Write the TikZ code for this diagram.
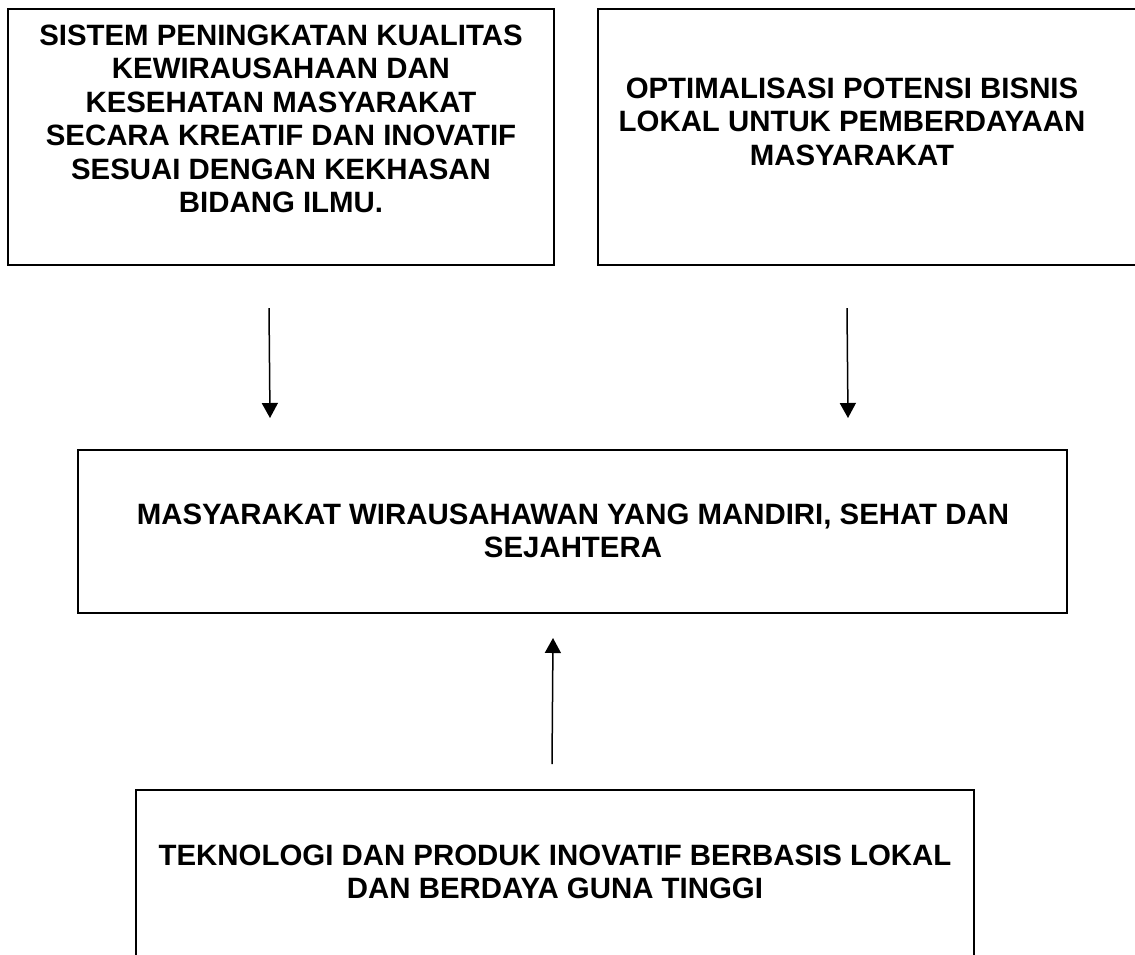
\documentclass[tikz,border=0pt]{standalone}
\usepackage{fontspec}
\setmainfont{Liberation Sans}
\usetikzlibrary{arrows.meta}

\tikzset{
  kotak/.style={draw, line width=2pt, inner sep=0pt},
  teks/.style={align=center, inner sep=0pt, anchor=north,
    font=\fontsize{29.4}{33.5}\selectfont\bfseries},
  panah/.style={line width=1.5pt, -{Triangle[width=16pt,length=15pt]}}
}

\begin{document}
\begin{tikzpicture}[x=1pt, y=-1pt]
  \useasboundingbox (0,0) rectangle (1135,954);
  \clip (0,0) rectangle (1135,954);

  % kotak atas
  \node[kotak, minimum width=546pt, minimum height=256pt] (sistem) at (281,137) {};
  \node[teks] (sistem-teks) at (281,24.5) {SISTEM PENINGKATAN KUALITAS\\
    KEWIRAUSAHAAN DAN\\ KESEHATAN MASYARAKAT\\ SECARA KREATIF DAN INOVATIF\\
    SESUAI DENGAN KEKHASAN\\ BIDANG ILMU.};
  \node[kotak, minimum width=552pt, minimum height=256pt] (bisnis) at (874,137) {};
  \node[teks] (bisnis-teks) at (852,77.5) {OPTIMALISASI POTENSI BISNIS\\
    LOKAL UNTUK PEMBERDAYAAN\\ MASYARAKAT};

  % kotak tengah
  \node[kotak, minimum width=989pt, minimum height=163pt] (masyarakat) at (572.5,531.5) {};
  \node[teks] (masyarakat-teks) at (573,503.5) {MASYARAKAT WIRAUSAHAWAN YANG MANDIRI, SEHAT DAN\\
    SEJAHTERA};

  % kotak bawah
  \node[kotak, minimum width=838pt, minimum height=170pt] (teknologi) at (555,875) {};
  \node[teks] (teknologi-teks) at (555,844.5) {TEKNOLOGI DAN PRODUK INOVATIF BERBASIS LOKAL\\
    DAN BERDAYA GUNA TINGGI};

  % panah
  \coordinate (p1a) at (269,308);
  \coordinate (p1b) at (270,418);
  \coordinate (p2a) at (847,308);
  \coordinate (p2b) at (848,418);
  \coordinate (p3a) at (552,764);
  \coordinate (p3b) at (553,638);
  \draw[panah] (p1a) -- (p1b);
  \draw[panah] (p2a) -- (p2b);
  \draw[panah] (p3a) -- (p3b);
\end{tikzpicture}
\end{document}
